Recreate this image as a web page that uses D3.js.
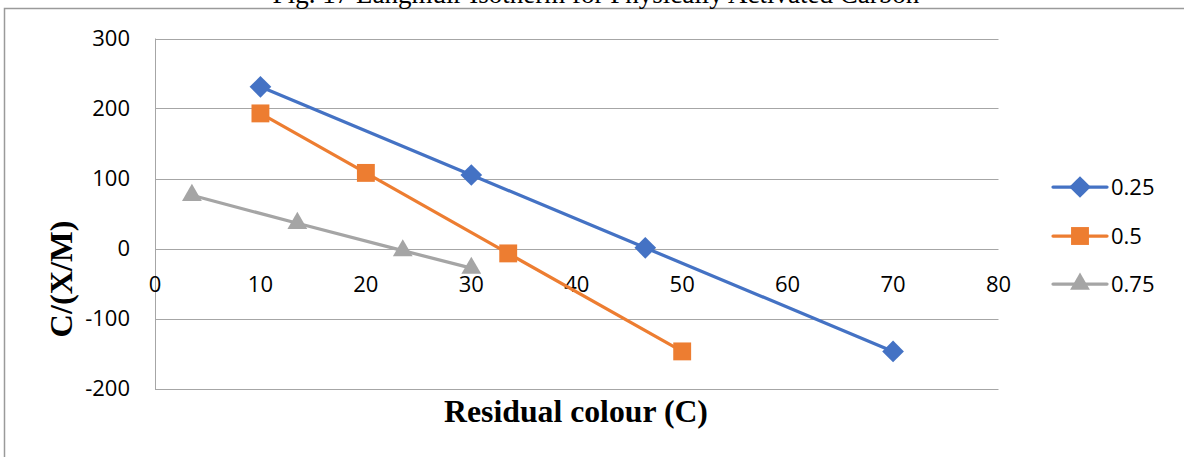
<!DOCTYPE html>
<html>
<head>
<meta charset="utf-8">
<script src="https://cdn.jsdelivr.net/npm/d3@7"></script>
<style>
  html, body { margin: 0; padding: 0; background: #fff; }
  svg { display: block; }
</style>
</head>
<body>
<svg id="chart" width="1184" height="457"></svg>
<script>
// ---- data ----
const seriesNames = ["0.25", "0.5", "0.75"];
const x025 = [10, 30, 46.5, 70];
const y025 = [231, 105, 1, -147];
const x05 = [10, 20, 33.5, 50];
const y05 = [193, 108, -7, -147];
const x075 = [3.5, 13.5, 23.5, 30];
const y075 = [76, 36, -3, -28];
const xTicks = [0, 10, 20, 30, 40, 50, 60, 70, 80];
const yTicks = [-200, -100, 0, 100, 200, 300];
const titleText = "Fig. 17 Langmuir Isotherm for Physically Activated Carbon";
const xTitle = "Residual colour (C)";
const yTitle = "C/(X/M)";

const colors = ["#4472C4", "#ED7D31", "#A5A5A5"];
const shapes = [d3.symbolDiamond2 || d3.symbolDiamond, d3.symbolSquare, d3.symbolTriangle];
const symSizes = [300, 320, 170];

const series = [
  {name: seriesNames[0], pts: x025.map((v, i) => [v, y025[i]])},
  {name: seriesNames[1], pts: x05.map((v, i) => [v, y05[i]])},
  {name: seriesNames[2], pts: x075.map((v, i) => [v, y075[i]])}
];

(function draw() {
const svg = d3.select("#chart");
const pLeft = 155, pRight = 998.5, pTop = 38.5, pBottom = 388.5;
const x = d3.scaleLinear().domain([0, 80]).range([pLeft, pRight]);
const y = d3.scaleLinear().domain([-200, 300]).range([pBottom, pTop]);

const tickFont = "'Open Sans', sans-serif";
const grid = "#A6A6A6";

// chart border (top + left)
svg.append("path")
  .attr("d", `M4.5,457 L4.5,8.5 L1184,8.5`)
  .attr("fill", "none").attr("stroke", "#9a9a9a").attr("stroke-width", 1.5);

// title (clipped at top, as in the reference)
const tt = svg.append("text")
  .attr("x", 596).attr("y", 3)
  .attr("text-anchor", "middle")
  .attr("font-family", "'Liberation Serif', 'Times New Roman', serif")
  .attr("font-size", 22)
  .attr("fill", "#000")
  .text(titleText);
{
  const w = tt.node().getComputedTextLength();
  tt.attr("font-size", 22 * 647 / w);
}

// gridlines
svg.append("g").selectAll("line").data(yTicks).join("line")
  .attr("x1", pLeft).attr("x2", pRight)
  .attr("y1", d => Math.round(y(d)) + 0.5).attr("y2", d => Math.round(y(d)) + 0.5)
  .attr("stroke", grid).attr("stroke-width", 1);

// left axis line
svg.append("line")
  .attr("x1", pLeft + 0.5).attr("x2", pLeft + 0.5)
  .attr("y1", pTop).attr("y2", pBottom + 0.5)
  .attr("stroke", grid).attr("stroke-width", 1);

// y tick labels
svg.append("g").selectAll("text").data(yTicks).join("text")
  .attr("x", 130).attr("y", d => y(d))
  .attr("dy", "0.36em")
  .attr("text-anchor", "end")
  .attr("font-family", tickFont).attr("font-size", 22)
  .attr("fill", "#000")
  .text(d => d);

// x tick labels
svg.append("g").selectAll("text").data(xTicks).join("text")
  .attr("x", d => x(d)).attr("y", 292)
  .attr("text-anchor", "middle")
  .attr("font-family", tickFont).attr("font-size", 22)
  .attr("fill", "#000")
  .text(d => d);

// lines
const line = d3.line().x(d => x(d[0])).y(d => y(d[1]));
series.forEach((s, i) => {
  svg.append("path").datum(s.pts)
    .attr("d", line)
    .attr("fill", "none")
    .attr("stroke", colors[i]).attr("stroke-width", 3.25)
    .attr("stroke-linejoin", "round").attr("stroke-linecap", "round");
});
series.forEach((s, i) => {
  svg.append("g").selectAll("path").data(s.pts).join("path")
    .attr("transform", d => `translate(${x(d[0])},${y(d[1])})`)
    .attr("d", d3.symbol().type(shapes[i]).size(symSizes[i]))
    .attr("fill", colors[i]);
});

// axis titles
const xt = svg.append("text")
  .attr("x", 576).attr("y", 422)
  .attr("text-anchor", "middle")
  .attr("font-family", "'Liberation Serif', 'Times New Roman', serif")
  .attr("font-weight", "bold").attr("font-size", 28)
  .attr("fill", "#000")
  .text(xTitle);
{
  const w = xt.node().getComputedTextLength();
  xt.attr("font-size", 28 * 264 / w);
}
const yt = svg.append("text")
  .attr("transform", "translate(72,279) rotate(-90)")
  .attr("text-anchor", "middle")
  .attr("font-family", "'Liberation Serif', 'Times New Roman', serif")
  .attr("font-weight", "bold").attr("font-size", 28)
  .attr("fill", "#000")
  .text(yTitle);
{
  const w = yt.node().getComputedTextLength();
  yt.attr("font-size", 28 * 117 / w);
}

// legend
const legY = [187, 236, 284];
series.forEach((s, i) => {
  const g = svg.append("g").attr("transform", `translate(0,${legY[i]})`);
  g.append("line").attr("x1", 1053).attr("x2", 1107).attr("y1", 0).attr("y2", 0)
    .attr("stroke", colors[i]).attr("stroke-width", 3.25).attr("stroke-linecap", "round");
  g.append("path").attr("transform", "translate(1080,0)")
    .attr("d", d3.symbol().type(shapes[i]).size(symSizes[i]))
    .attr("fill", colors[i]);
  g.append("text").attr("x", 1111).attr("y", 0).attr("dy", "0.36em")
    .attr("font-family", tickFont).attr("font-size", 22).attr("fill", "#000")
    .text(s.name);
});
})();
</script>
</body>
</html>
